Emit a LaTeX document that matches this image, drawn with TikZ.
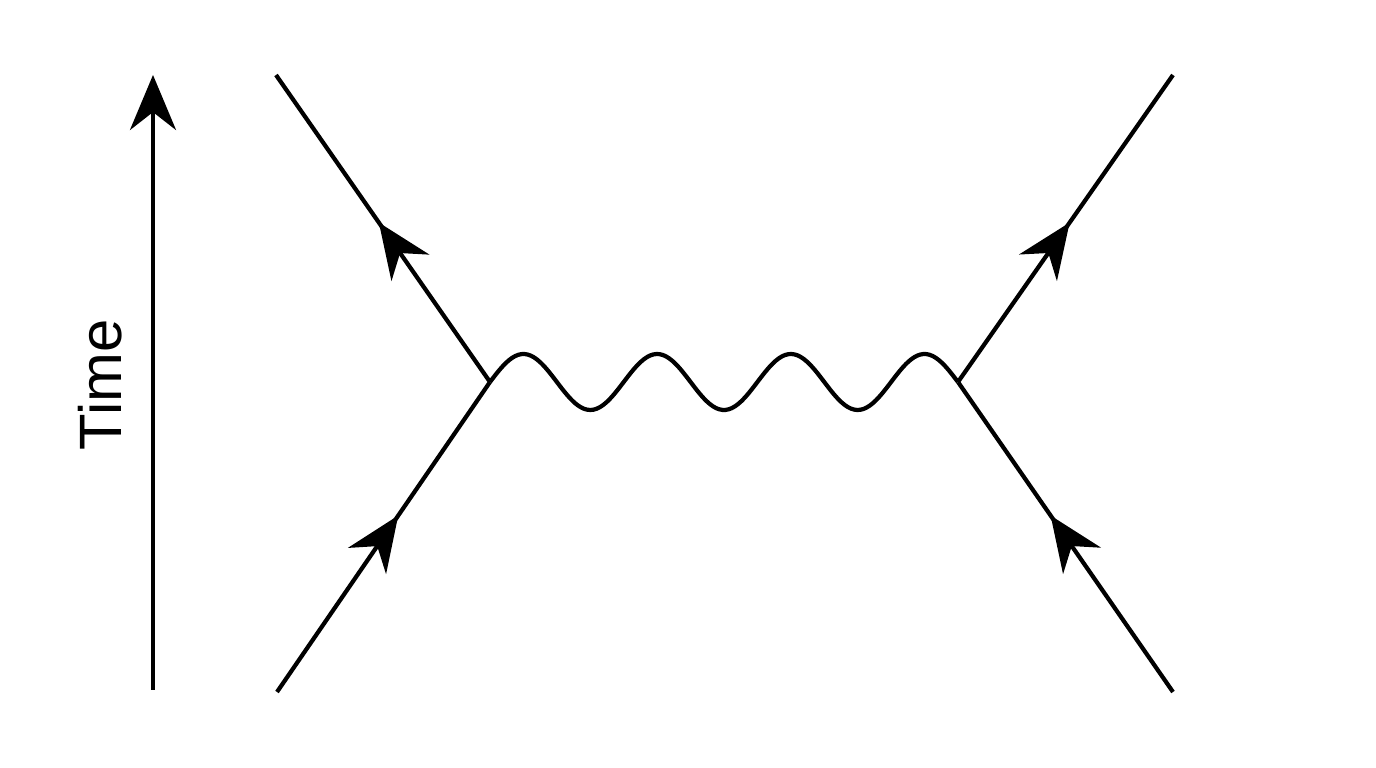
\documentclass[tikz,border=0pt]{standalone}
\usepackage{fontspec}
\setmainfont{Liberation Sans}
\usetikzlibrary{arrows.meta,decorations.markings}

\begin{document}
\begin{tikzpicture}
		[fermion/.style={line width=1.2pt,postaction={decorate},
			decoration={markings,mark=at position #1 with {\arrow{Stealth[length=5.5mm,width=4.6mm]}}}},
		photon/.style={line width=1.2pt},
		timeaxis/.style={line width=1.2pt,-{Stealth[length=5.5mm,width=4.6mm]}}]
		\useasboundingbox (0,0) rectangle (13.76,7.68);
		\coordinate (v1) at (4.90,3.86);
		\coordinate (v2) at (9.58,3.86);
		\coordinate (in1) at (2.77,0.76);
		\coordinate (in2) at (11.73,0.76);
		\coordinate (out1) at (2.76,6.93);
		\coordinate (out2) at (11.73,6.93);
		\coordinate (t0) at (1.53,0.78);
		\coordinate (t1) at (1.53,6.93);

		\draw [timeaxis] (t0) -- (t1);
		\node (time) [rotate=90,font=\fontsize{17}{20}\selectfont] at (1.00,3.83) {Time};

		\draw [fermion=0.57] (in1) -- (v1);
		\draw [fermion=0.52] (v1) -- (out1);
		\draw [fermion=0.57] (in2) -- (v2);
		\draw [fermion=0.52] (v2) -- (out2);

		\draw [photon] plot [domain=0:4.68,samples=150,smooth] ({4.90+\x},{3.86+0.28*sin(\x/1.337*360)});
	\end{tikzpicture}
\end{document}
